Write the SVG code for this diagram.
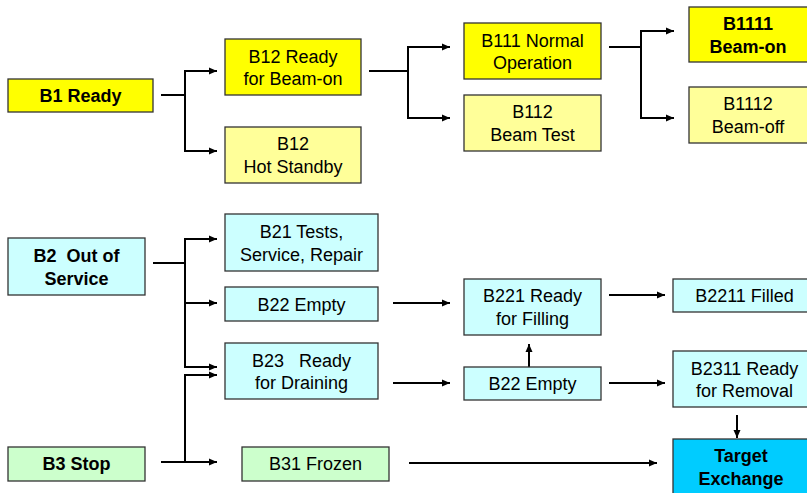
<svg xmlns="http://www.w3.org/2000/svg" width="807" height="493" viewBox="0 0 807 493">
<style>
.box{stroke:#333333;stroke-width:1.3}
.y1{fill:#FFFF00}.y2{fill:#FFFF99}.c1{fill:#CCFFFF}.g1{fill:#CCFFCC}.t1{fill:#00CCFF}
text{font-family:"Liberation Sans",Arial,sans-serif;font-size:18px;fill:#000;text-anchor:middle;white-space:pre}
.b{font-weight:bold}
.ln{fill:none;stroke:#000;stroke-width:2}
</style>
<defs>
<marker id="ah" markerUnits="userSpaceOnUse" markerWidth="9" markerHeight="8" refX="8" refY="4" orient="auto">
<path d="M0,0.5 L8,4 L0,7.5 z" fill="#000"/>
</marker>
</defs>
<rect width="807" height="493" fill="#fff"/>
<g id="connectors">
<path class="ln" d="M161,95 H185 V71 H217" marker-end="url(#ah)"/>
<path class="ln" d="M185,95 V151 H217" marker-end="url(#ah)"/>
<path class="ln" d="M369,71 H408 V47 H450" marker-end="url(#ah)"/>
<path class="ln" d="M408,71 V118 H450" marker-end="url(#ah)"/>
<path class="ln" d="M609,47 H641 V31 H674" marker-end="url(#ah)"/>
<path class="ln" d="M641,47 V118 H674" marker-end="url(#ah)"/>
<path class="ln" d="M153,263 H185 V239 H217" marker-end="url(#ah)"/>
<path class="ln" d="M185,263 V367 H217" marker-end="url(#ah)"/>
<path class="ln" d="M185,303 H217" marker-end="url(#ah)"/>
<path class="ln" d="M161,462 H217" marker-end="url(#ah)"/>
<path class="ln" d="M185,462 V375 H217" marker-end="url(#ah)"/>
<path class="ln" d="M393,303 H450" marker-end="url(#ah)"/>
<path class="ln" d="M393,383 H450" marker-end="url(#ah)"/>
<path class="ln" d="M609,295 H665" marker-end="url(#ah)"/>
<path class="ln" d="M609,383 H665" marker-end="url(#ah)"/>
<path class="ln" d="M529,367 V344" marker-end="url(#ah)"/>
<path class="ln" d="M737,415 V438" marker-end="url(#ah)"/>
<path class="ln" d="M409,463 H657" marker-end="url(#ah)"/>
</g>
<g id="B1"><rect class="box y1" x="8" y="79" width="145" height="33"/><text class="b" x="80.5" y="102">B1 Ready</text></g>
<g id="B12a"><rect class="box y1" x="225" y="39" width="136" height="56"/><text x="293" y="63">B12 Ready</text><text x="293" y="85">for Beam-on</text></g>
<g id="B12b"><rect class="box y2" x="225" y="127" width="136" height="56"/><text x="293" y="150">B12</text><text x="293" y="172.5">Hot Standby</text></g>
<g id="B111"><rect class="box y1" x="464" y="23" width="137" height="56"/><text x="532.5" y="46.5">B111 Normal</text><text x="532.5" y="68.5">Operation</text></g>
<g id="B112"><rect class="box y2" x="464" y="95" width="137" height="56"/><text x="532.5" y="118">B112</text><text x="532.5" y="140.5">Beam Test</text></g>
<g id="B1111"><rect class="box y1" x="689" y="7" width="125" height="55"/><text class="b" x="748" y="30">B1111</text><text class="b" x="748" y="52.5">Beam-on</text></g>
<g id="B1112"><rect class="box y2" x="689" y="87" width="125" height="56"/><text x="748" y="110">B1112</text><text x="748" y="132.5">Beam-off</text></g>
<g id="B2"><rect class="box c1" x="8" y="238" width="137" height="57"/><text class="b" x="76.5" y="262">B2  Out of</text><text class="b" x="76.5" y="284.5">Service</text></g>
<g id="B21"><rect class="box c1" x="225" y="214" width="153" height="57"/><text x="301.5" y="238">B21 Tests,</text><text x="301.5" y="260.5">Service, Repair</text></g>
<g id="B22"><rect class="box c1" x="225" y="287" width="153" height="34"/><text x="301.5" y="310.5">B22 Empty</text></g>
<g id="B23"><rect class="box c1" x="225" y="343" width="153" height="56"/><text x="301.5" y="366.5">B23   Ready</text><text x="301.5" y="389">for Draining</text></g>
<g id="B3"><rect class="box g1" x="8" y="447" width="137" height="34"/><text class="b" x="76.5" y="470">B3 Stop</text></g>
<g id="B31"><rect class="box g1" x="242" y="447" width="147" height="34"/><text x="315.5" y="470">B31 Frozen</text></g>
<g id="B221"><rect class="box c1" x="464" y="279" width="137" height="56"/><text x="532.5" y="302">B221 Ready</text><text x="532.5" y="325">for Filling</text></g>
<g id="B22b"><rect class="box c1" x="464" y="367" width="137" height="33"/><text x="532.5" y="390">B22 Empty</text></g>
<g id="B2211"><rect class="box c1" x="673" y="279" width="143" height="33"/><text x="744.5" y="302">B2211 Filled</text></g>
<g id="B2311"><rect class="box c1" x="673" y="351" width="143" height="56"/><text x="744.5" y="374.5">B2311 Ready</text><text x="744.5" y="397">for Removal</text></g>
<g id="Target"><rect class="box t1" x="673" y="439" width="143" height="62"/><text class="b" x="741" y="462">Target</text><text class="b" x="741" y="484.5">Exchange</text></g>
</svg>
